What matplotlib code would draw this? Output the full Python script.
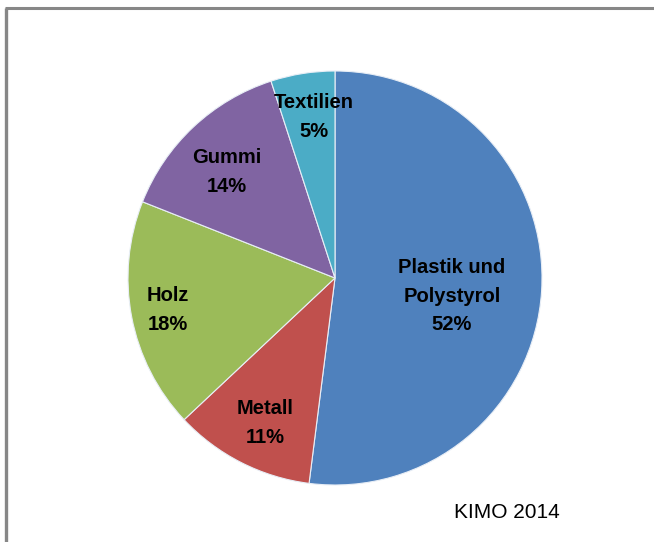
import matplotlib
matplotlib.use("Agg")
import matplotlib.pyplot as plt
import numpy as np

categories = ["Plastik und\nPolystyrol", "Metall", "Holz", "Gummi", "Textilien"]
values = [52, 11, 18, 14, 5]
colors = ["#4F81BD", "#C0504D", "#9BBB59", "#8064A2", "#4BACC6"]
source = "KIMO 2014"

W, H = 654, 542
fig = plt.figure(figsize=(W / 100, H / 100), dpi=100)
ax = fig.add_axes([0, 0, 1, 1])

cx, cy, R = 335, H - 278, 207
wedges, _ = ax.pie(values, colors=colors, startangle=90, counterclock=False,
                   center=(cx, cy), radius=R,
                   wedgeprops=dict(linewidth=0.8, edgecolor="#E8EEF6"))
ax.set_xlim(0, W)
ax.set_ylim(0, H)
ax.set_aspect("auto")
ax.axis("off")

# label centres in image pixel coordinates (layout only)
label_xy = [(452, 296), (265, 423), (168, 310), (227, 172), (314, 117)]
font = ["Liberation Sans", "DejaVu Sans"]
for cat, v, (x, y) in zip(categories, values, label_xy):
    ax.text(x, H - y, f"{cat}\n{v}%", ha="center", va="center", fontsize=14.5,
            fontweight="bold", family=font, linespacing=1.65, color="black")

ax.text(507, H - 512, source, ha="center", va="center", fontsize=15,
        family=font, color="black")

# chart frame
ax.plot([6, 6], [0, H - 8], color="#878787", lw=2.4, solid_capstyle="butt")
ax.plot([5, W], [H - 8, H - 8], color="#878787", lw=2.2, solid_capstyle="butt")

fig.savefig("out.png", dpi=100)
